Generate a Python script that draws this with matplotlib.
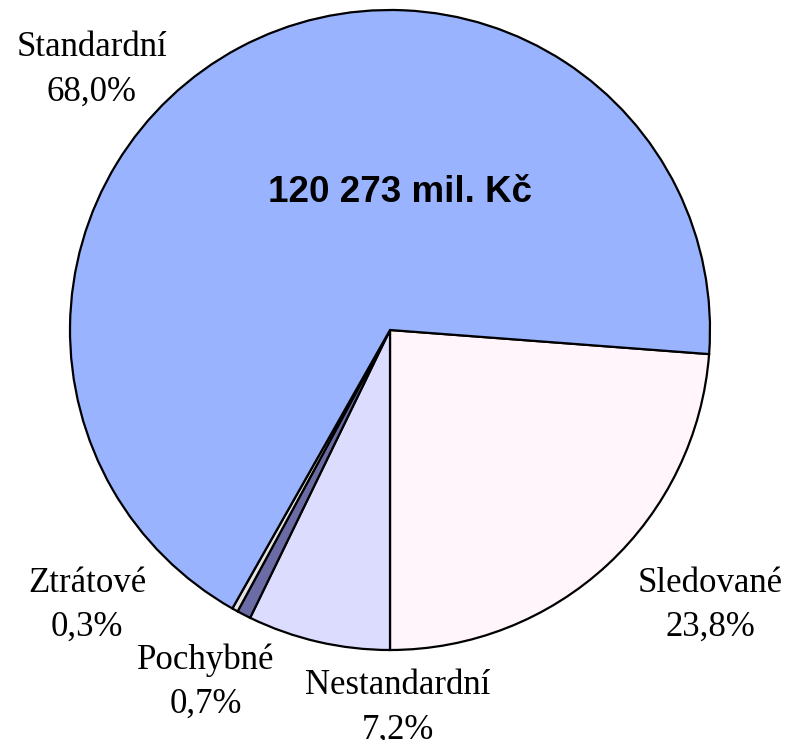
import matplotlib
matplotlib.use("Agg")
import matplotlib.pyplot as plt

categories = ["Sledované", "Nestandardní", "Pochybné", "Ztrátové", "Standardní"]
values = [23.8, 7.2, 0.7, 0.3, 68.0]
pct_labels = ["23,8%", "7,2%", "0,7%", "0,3%", "68,0%"]
colors = ["#FFF5FA", "#DCDCFF", "#6B6BA6", "#E4E4E4", "#99B3FF"]
total_text = "120 273 mil. Kč"

W, H = 791, 740
fig = plt.figure(figsize=(W / 100, H / 100), dpi=100)
ax = fig.add_axes([0, 0, 1, 1])

cx, cy, r = 390, H - 330, 320
start = -90 + values[0] / 100 * 360
ax.pie(values, colors=colors, startangle=start, counterclock=False,
       center=(cx, cy), radius=r, frame=True,
       wedgeprops=dict(edgecolor="black", linewidth=1.6))
ax.set_xlim(0, W)
ax.set_ylim(0, H)
ax.set_aspect("equal")
ax.axis("off")

label_pos = {
    "Sledované": (710, 583),
    "Nestandardní": (398, 686),
    "Pochybné": (206, 660),
    "Ztrátové": (87, 583),
    "Standardní": (92, 48),
}
font = dict(family="Liberation Serif", fontsize=25)
for cat, pct in zip(categories, pct_labels):
    x, y = label_pos[cat]
    ax.text(x, H - y, cat, ha="center", va="center", **font)
    ax.text(x, H - y - 44, pct, ha="center", va="center", **font)

ax.text(400, H - 192, total_text, ha="center", va="center",
        family="Liberation Sans", fontweight="bold", fontsize=26.5)

fig.savefig("out.png", dpi=100)
